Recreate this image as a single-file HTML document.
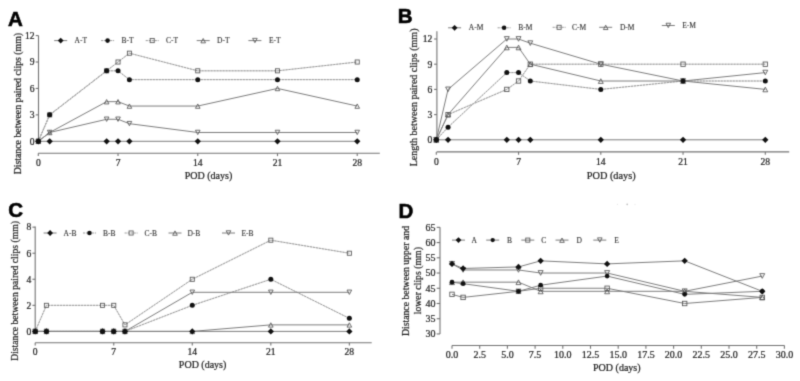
<!DOCTYPE html>
<html><head><meta charset="utf-8"><style>
html,body{margin:0;padding:0;background:#fff;}
svg{display:block;will-change:transform;}
</style></head><body>
<svg width="800" height="381" viewBox="0 0 800 381">
<defs><filter id="soft" x="0" y="0" width="800" height="381" filterUnits="userSpaceOnUse" color-interpolation-filters="sRGB"><feConvolveMatrix order="3" kernelMatrix="0.0225 0.1050 0.0225 0.1050 0.4900 0.1050 0.0225 0.1050 0.0225" divisor="1" edgeMode="duplicate"/></filter></defs>
<g filter="url(#soft)">
<rect width="800" height="381" fill="#fff"/>
<text x="8.10" y="25.90" font-family='"Liberation Sans", sans-serif' font-size="20.5" text-anchor="start" font-weight="bold" fill="#000" stroke="#000" stroke-width="0.6">A</text>
<path d="M38.50 35.60V141.30" stroke="#737373" stroke-width="1.1" fill="none"/>
<path d="M35.70 141.30H38.50" stroke="#737373" stroke-width="1.1"/>
<text x="34.50" y="144.60" font-family='"Liberation Serif", serif' font-size="9.6" text-anchor="end" font-weight="normal" fill="#222" stroke="#222" stroke-width="0.22">0</text>
<path d="M35.70 114.87H38.50" stroke="#737373" stroke-width="1.1"/>
<text x="34.50" y="118.17" font-family='"Liberation Serif", serif' font-size="9.6" text-anchor="end" font-weight="normal" fill="#222" stroke="#222" stroke-width="0.22">3</text>
<path d="M35.70 88.44H38.50" stroke="#737373" stroke-width="1.1"/>
<text x="34.50" y="91.74" font-family='"Liberation Serif", serif' font-size="9.6" text-anchor="end" font-weight="normal" fill="#222" stroke="#222" stroke-width="0.22">6</text>
<path d="M35.70 62.01H38.50" stroke="#737373" stroke-width="1.1"/>
<text x="34.50" y="65.31" font-family='"Liberation Serif", serif' font-size="9.6" text-anchor="end" font-weight="normal" fill="#222" stroke="#222" stroke-width="0.22">9</text>
<path d="M35.70 35.58H38.50" stroke="#737373" stroke-width="1.1"/>
<text x="34.50" y="38.88" font-family='"Liberation Serif", serif' font-size="9.6" text-anchor="end" font-weight="normal" fill="#222" stroke="#222" stroke-width="0.22">12</text>
<path d="M38.20 153.30H379.80" stroke="#737373" stroke-width="1.1" fill="none"/>
<path d="M38.30 153.30V156.10" stroke="#737373" stroke-width="1.1"/>
<text x="38.30" y="165.60" font-family='"Liberation Serif", serif' font-size="9.6" text-anchor="middle" font-weight="normal" fill="#222" stroke="#222" stroke-width="0.22">0</text>
<path d="M118.03 153.30V156.10" stroke="#737373" stroke-width="1.1"/>
<text x="118.03" y="165.60" font-family='"Liberation Serif", serif' font-size="9.6" text-anchor="middle" font-weight="normal" fill="#222" stroke="#222" stroke-width="0.22">7</text>
<path d="M197.76 153.30V156.10" stroke="#737373" stroke-width="1.1"/>
<text x="197.76" y="165.60" font-family='"Liberation Serif", serif' font-size="9.6" text-anchor="middle" font-weight="normal" fill="#222" stroke="#222" stroke-width="0.22">14</text>
<path d="M277.49 153.30V156.10" stroke="#737373" stroke-width="1.1"/>
<text x="277.49" y="165.60" font-family='"Liberation Serif", serif' font-size="9.6" text-anchor="middle" font-weight="normal" fill="#222" stroke="#222" stroke-width="0.22">21</text>
<path d="M357.22 153.30V156.10" stroke="#737373" stroke-width="1.1"/>
<text x="357.22" y="165.60" font-family='"Liberation Serif", serif' font-size="9.6" text-anchor="middle" font-weight="normal" fill="#222" stroke="#222" stroke-width="0.22">28</text>
<text x="208.50" y="179.00" font-family='"Liberation Serif", serif' font-size="10" text-anchor="middle" font-weight="normal" fill="#222" stroke="#222" stroke-width="0.22">POD (days)</text>
<text transform="translate(21.00 103.60) rotate(-90)" x="0" y="0" font-family='"Liberation Serif", serif' font-size="9.8" text-anchor="middle" fill="#222" stroke="#222" stroke-width="0.22">Distance between paired clips (mm)</text>
<path d="M38.30 141.30L49.69 141.30L106.64 141.30L118.03 141.30L129.42 141.30L197.76 141.30L277.49 141.30L357.22 141.30" fill="none" stroke="#7d7d7d" stroke-width="1.0"/>
<path d="M38.30 141.30L49.69 114.87L106.64 70.82L118.03 70.82L129.42 79.63L197.76 79.63L277.49 79.63L357.22 79.63" fill="none" stroke="#d2d2d2" stroke-width="1.0"/><path d="M38.30 141.30L49.69 114.87L106.64 70.82L118.03 70.82L129.42 79.63L197.76 79.63L277.49 79.63L357.22 79.63" fill="none" stroke="#999999" stroke-width="1.0" stroke-dasharray="2 1"/>
<path d="M38.30 141.30L49.69 114.87L106.64 70.82L118.03 62.01L129.42 53.20L197.76 70.82L277.49 70.82L357.22 62.01" fill="none" stroke="#d2d2d2" stroke-width="1.0"/><path d="M38.30 141.30L49.69 114.87L106.64 70.82L118.03 62.01L129.42 53.20L197.76 70.82L277.49 70.82L357.22 62.01" fill="none" stroke="#999999" stroke-width="1.0" stroke-dasharray="2 1"/>
<path d="M38.30 141.30L49.69 132.49L106.64 101.66L118.03 101.66L129.42 106.06L197.76 106.06L277.49 88.44L357.22 106.06" fill="none" stroke="#7d7d7d" stroke-width="1.0"/>
<path d="M38.30 141.30L49.69 132.49L106.64 119.28L118.03 119.28L129.42 123.68L197.76 132.49L277.49 132.49L357.22 132.49" fill="none" stroke="#7d7d7d" stroke-width="1.0"/>
<rect x="36.25" y="139.25" width="4.10" height="4.10" fill="none" stroke="#555" stroke-width="0.85"/>
<rect x="47.64" y="112.82" width="4.10" height="4.10" fill="none" stroke="#555" stroke-width="0.85"/>
<rect x="104.59" y="68.77" width="4.10" height="4.10" fill="none" stroke="#555" stroke-width="0.85"/>
<rect x="115.98" y="59.96" width="4.10" height="4.10" fill="none" stroke="#555" stroke-width="0.85"/>
<rect x="127.37" y="51.15" width="4.10" height="4.10" fill="none" stroke="#555" stroke-width="0.85"/>
<rect x="195.71" y="68.77" width="4.10" height="4.10" fill="none" stroke="#555" stroke-width="0.85"/>
<rect x="275.44" y="68.77" width="4.10" height="4.10" fill="none" stroke="#555" stroke-width="0.85"/>
<rect x="355.17" y="59.96" width="4.10" height="4.10" fill="none" stroke="#555" stroke-width="0.85"/>
<path d="M38.30 139.20L40.60 143.55L36.00 143.55Z" fill="none" stroke="#555" stroke-width="0.85"/>
<path d="M49.69 130.39L51.99 134.74L47.39 134.74Z" fill="none" stroke="#555" stroke-width="0.85"/>
<path d="M106.64 99.56L108.94 103.91L104.34 103.91Z" fill="none" stroke="#555" stroke-width="0.85"/>
<path d="M118.03 99.56L120.33 103.91L115.73 103.91Z" fill="none" stroke="#555" stroke-width="0.85"/>
<path d="M129.42 103.96L131.72 108.31L127.12 108.31Z" fill="none" stroke="#555" stroke-width="0.85"/>
<path d="M197.76 103.96L200.06 108.31L195.46 108.31Z" fill="none" stroke="#555" stroke-width="0.85"/>
<path d="M277.49 86.34L279.79 90.69L275.19 90.69Z" fill="none" stroke="#555" stroke-width="0.85"/>
<path d="M357.22 103.96L359.52 108.31L354.92 108.31Z" fill="none" stroke="#555" stroke-width="0.85"/>
<path d="M38.30 143.40L40.60 139.05L36.00 139.05Z" fill="none" stroke="#555" stroke-width="0.85"/>
<path d="M49.69 134.59L51.99 130.24L47.39 130.24Z" fill="none" stroke="#555" stroke-width="0.85"/>
<path d="M106.64 121.38L108.94 117.03L104.34 117.03Z" fill="none" stroke="#555" stroke-width="0.85"/>
<path d="M118.03 121.38L120.33 117.03L115.73 117.03Z" fill="none" stroke="#555" stroke-width="0.85"/>
<path d="M129.42 125.78L131.72 121.43L127.12 121.43Z" fill="none" stroke="#555" stroke-width="0.85"/>
<path d="M197.76 134.59L200.06 130.24L195.46 130.24Z" fill="none" stroke="#555" stroke-width="0.85"/>
<path d="M277.49 134.59L279.79 130.24L275.19 130.24Z" fill="none" stroke="#555" stroke-width="0.85"/>
<path d="M357.22 134.59L359.52 130.24L354.92 130.24Z" fill="none" stroke="#555" stroke-width="0.85"/>
<path d="M38.30 138.15L41.45 141.30L38.30 144.45L35.15 141.30Z" fill="#111" stroke="none"/>
<path d="M49.69 138.15L52.84 141.30L49.69 144.45L46.54 141.30Z" fill="#111" stroke="none"/>
<path d="M106.64 138.15L109.79 141.30L106.64 144.45L103.49 141.30Z" fill="#111" stroke="none"/>
<path d="M118.03 138.15L121.18 141.30L118.03 144.45L114.88 141.30Z" fill="#111" stroke="none"/>
<path d="M129.42 138.15L132.57 141.30L129.42 144.45L126.27 141.30Z" fill="#111" stroke="none"/>
<path d="M197.76 138.15L200.91 141.30L197.76 144.45L194.61 141.30Z" fill="#111" stroke="none"/>
<path d="M277.49 138.15L280.64 141.30L277.49 144.45L274.34 141.30Z" fill="#111" stroke="none"/>
<path d="M357.22 138.15L360.37 141.30L357.22 144.45L354.07 141.30Z" fill="#111" stroke="none"/>
<circle cx="38.30" cy="141.30" r="2.50" fill="#111"/>
<circle cx="49.69" cy="114.87" r="2.50" fill="#111"/>
<circle cx="106.64" cy="70.82" r="2.50" fill="#111"/>
<circle cx="118.03" cy="70.82" r="2.50" fill="#111"/>
<circle cx="129.42" cy="79.63" r="2.50" fill="#111"/>
<circle cx="197.76" cy="79.63" r="2.50" fill="#111"/>
<circle cx="277.49" cy="79.63" r="2.50" fill="#111"/>
<circle cx="357.22" cy="79.63" r="2.50" fill="#111"/>
<path d="M54.20 40.60H67.20" stroke="#7d7d7d" stroke-width="1.0"/>
<path d="M60.70 37.70L63.60 40.60L60.70 43.50L57.80 40.60Z" fill="#111" stroke="none"/>
<text x="74.50" y="43.10" font-family='"Liberation Serif", serif' font-size="7.5" text-anchor="start" font-weight="normal" fill="#333" stroke="#333" stroke-width="0.12">A-T</text>
<path d="M101.10 40.60H114.10" stroke="#999999" stroke-width="1.0" stroke-dasharray="2.2 0.8"/>
<circle cx="107.60" cy="40.60" r="2.30" fill="#111"/>
<text x="121.40" y="43.10" font-family='"Liberation Serif", serif' font-size="7.5" text-anchor="start" font-weight="normal" fill="#333" stroke="#333" stroke-width="0.12">B-T</text>
<path d="M145.70 40.60H158.70" stroke="#999999" stroke-width="1.0" stroke-dasharray="2.2 0.8"/>
<rect x="150.15" y="38.55" width="4.10" height="4.10" fill="none" stroke="#555" stroke-width="0.85"/>
<text x="166.00" y="43.10" font-family='"Liberation Serif", serif' font-size="7.5" text-anchor="start" font-weight="normal" fill="#333" stroke="#333" stroke-width="0.12">C-T</text>
<path d="M196.70 40.60H209.70" stroke="#7d7d7d" stroke-width="1.0"/>
<path d="M203.20 38.50L205.50 42.85L200.90 42.85Z" fill="none" stroke="#555" stroke-width="0.85"/>
<text x="217.00" y="43.10" font-family='"Liberation Serif", serif' font-size="7.5" text-anchor="start" font-weight="normal" fill="#333" stroke="#333" stroke-width="0.12">D-T</text>
<path d="M248.40 40.60H261.40" stroke="#7d7d7d" stroke-width="1.0"/>
<path d="M254.90 42.70L257.20 38.35L252.60 38.35Z" fill="none" stroke="#555" stroke-width="0.85"/>
<text x="269.00" y="43.10" font-family='"Liberation Serif", serif' font-size="7.5" text-anchor="start" font-weight="normal" fill="#333" stroke="#333" stroke-width="0.12">E-T</text>
<text x="397.80" y="23.40" font-family='"Liberation Sans", sans-serif' font-size="20.5" text-anchor="start" font-weight="bold" fill="#000" stroke="#000" stroke-width="0.6">B</text>
<path d="M436.90 31.20V140.20" stroke="#737373" stroke-width="1.1" fill="none"/>
<path d="M434.10 139.80H436.90" stroke="#737373" stroke-width="1.1"/>
<text x="432.40" y="143.10" font-family='"Liberation Serif", serif' font-size="9.6" text-anchor="end" font-weight="normal" fill="#222" stroke="#222" stroke-width="0.22">0</text>
<path d="M434.10 114.60H436.90" stroke="#737373" stroke-width="1.1"/>
<text x="432.40" y="117.90" font-family='"Liberation Serif", serif' font-size="9.6" text-anchor="end" font-weight="normal" fill="#222" stroke="#222" stroke-width="0.22">3</text>
<path d="M434.10 89.40H436.90" stroke="#737373" stroke-width="1.1"/>
<text x="432.40" y="92.70" font-family='"Liberation Serif", serif' font-size="9.6" text-anchor="end" font-weight="normal" fill="#222" stroke="#222" stroke-width="0.22">6</text>
<path d="M434.10 64.20H436.90" stroke="#737373" stroke-width="1.1"/>
<text x="432.40" y="67.50" font-family='"Liberation Serif", serif' font-size="9.6" text-anchor="end" font-weight="normal" fill="#222" stroke="#222" stroke-width="0.22">9</text>
<path d="M434.10 39.00H436.90" stroke="#737373" stroke-width="1.1"/>
<text x="432.40" y="42.30" font-family='"Liberation Serif", serif' font-size="9.6" text-anchor="end" font-weight="normal" fill="#222" stroke="#222" stroke-width="0.22">12</text>
<path d="M436.60 151.90H789.20" stroke="#737373" stroke-width="1.1" fill="none"/>
<path d="M436.30 151.90V154.70" stroke="#737373" stroke-width="1.1"/>
<text x="436.30" y="164.90" font-family='"Liberation Serif", serif' font-size="9.6" text-anchor="middle" font-weight="normal" fill="#222" stroke="#222" stroke-width="0.22">0</text>
<path d="M518.55 151.90V154.70" stroke="#737373" stroke-width="1.1"/>
<text x="518.55" y="164.90" font-family='"Liberation Serif", serif' font-size="9.6" text-anchor="middle" font-weight="normal" fill="#222" stroke="#222" stroke-width="0.22">7</text>
<path d="M600.80 151.90V154.70" stroke="#737373" stroke-width="1.1"/>
<text x="600.80" y="164.90" font-family='"Liberation Serif", serif' font-size="9.6" text-anchor="middle" font-weight="normal" fill="#222" stroke="#222" stroke-width="0.22">14</text>
<path d="M683.05 151.90V154.70" stroke="#737373" stroke-width="1.1"/>
<text x="683.05" y="164.90" font-family='"Liberation Serif", serif' font-size="9.6" text-anchor="middle" font-weight="normal" fill="#222" stroke="#222" stroke-width="0.22">21</text>
<path d="M765.30 151.90V154.70" stroke="#737373" stroke-width="1.1"/>
<text x="765.30" y="164.90" font-family='"Liberation Serif", serif' font-size="9.6" text-anchor="middle" font-weight="normal" fill="#222" stroke="#222" stroke-width="0.22">28</text>
<text x="611.20" y="178.80" font-family='"Liberation Serif", serif' font-size="10.3" text-anchor="middle" font-weight="normal" fill="#222" stroke="#222" stroke-width="0.22">POD (days)</text>
<text transform="translate(416.50 97.40) rotate(-90)" x="0" y="0" font-family='"Liberation Serif", serif' font-size="10" text-anchor="middle" fill="#222" stroke="#222" stroke-width="0.22">Length between paired clips (mm)</text>
<path d="M436.30 139.80L448.05 139.80L506.80 139.80L518.55 139.80L530.30 139.80L600.80 139.80L683.05 139.80L765.30 139.80" fill="none" stroke="#7d7d7d" stroke-width="1.0"/>
<path d="M436.30 139.80L448.05 127.20L506.80 72.60L518.55 72.60L530.30 81.00L600.80 89.40L683.05 81.00L765.30 81.00" fill="none" stroke="#d2d2d2" stroke-width="1.0"/><path d="M436.30 139.80L448.05 127.20L506.80 72.60L518.55 72.60L530.30 81.00L600.80 89.40L683.05 81.00L765.30 81.00" fill="none" stroke="#999999" stroke-width="1.0" stroke-dasharray="2 1"/>
<path d="M436.30 139.80L448.05 114.60L506.80 89.40L518.55 81.00L530.30 64.20L600.80 64.20L683.05 64.20L765.30 64.20" fill="none" stroke="#d2d2d2" stroke-width="1.0"/><path d="M436.30 139.80L448.05 114.60L506.80 89.40L518.55 81.00L530.30 64.20L600.80 64.20L683.05 64.20L765.30 64.20" fill="none" stroke="#999999" stroke-width="1.0" stroke-dasharray="2 1"/>
<path d="M436.30 139.80L448.05 114.60L506.80 47.40L518.55 47.40L530.30 64.20L600.80 81.00L683.05 81.00L765.30 89.40" fill="none" stroke="#7d7d7d" stroke-width="1.0"/>
<path d="M436.30 139.80L448.05 89.40L506.80 39.00L518.55 39.00L530.30 43.20L600.80 64.20L683.05 81.00L765.30 72.60" fill="none" stroke="#7d7d7d" stroke-width="1.0"/>
<rect x="434.13" y="137.63" width="4.35" height="4.35" fill="none" stroke="#555" stroke-width="0.85"/>
<rect x="445.88" y="112.43" width="4.35" height="4.35" fill="none" stroke="#555" stroke-width="0.85"/>
<rect x="504.63" y="87.23" width="4.35" height="4.35" fill="none" stroke="#555" stroke-width="0.85"/>
<rect x="516.38" y="78.83" width="4.35" height="4.35" fill="none" stroke="#555" stroke-width="0.85"/>
<rect x="528.13" y="62.03" width="4.35" height="4.35" fill="none" stroke="#555" stroke-width="0.85"/>
<rect x="598.63" y="62.03" width="4.35" height="4.35" fill="none" stroke="#555" stroke-width="0.85"/>
<rect x="680.88" y="62.03" width="4.35" height="4.35" fill="none" stroke="#555" stroke-width="0.85"/>
<rect x="763.13" y="62.03" width="4.35" height="4.35" fill="none" stroke="#555" stroke-width="0.85"/>
<path d="M436.30 137.57L438.74 142.19L433.86 142.19Z" fill="none" stroke="#555" stroke-width="0.85"/>
<path d="M448.05 112.37L450.49 116.99L445.61 116.99Z" fill="none" stroke="#555" stroke-width="0.85"/>
<path d="M506.80 45.17L509.24 49.79L504.36 49.79Z" fill="none" stroke="#555" stroke-width="0.85"/>
<path d="M518.55 45.17L520.99 49.79L516.11 49.79Z" fill="none" stroke="#555" stroke-width="0.85"/>
<path d="M530.30 61.97L532.74 66.59L527.86 66.59Z" fill="none" stroke="#555" stroke-width="0.85"/>
<path d="M600.80 78.77L603.24 83.39L598.36 83.39Z" fill="none" stroke="#555" stroke-width="0.85"/>
<path d="M683.05 78.77L685.49 83.39L680.61 83.39Z" fill="none" stroke="#555" stroke-width="0.85"/>
<path d="M765.30 87.17L767.74 91.79L762.86 91.79Z" fill="none" stroke="#555" stroke-width="0.85"/>
<path d="M436.30 142.03L438.74 137.42L433.86 137.42Z" fill="none" stroke="#555" stroke-width="0.85"/>
<path d="M448.05 91.63L450.49 87.02L445.61 87.02Z" fill="none" stroke="#555" stroke-width="0.85"/>
<path d="M506.80 41.23L509.24 36.62L504.36 36.62Z" fill="none" stroke="#555" stroke-width="0.85"/>
<path d="M518.55 41.23L520.99 36.62L516.11 36.62Z" fill="none" stroke="#555" stroke-width="0.85"/>
<path d="M530.30 45.43L532.74 40.82L527.86 40.82Z" fill="none" stroke="#555" stroke-width="0.85"/>
<path d="M600.80 66.43L603.24 61.82L598.36 61.82Z" fill="none" stroke="#555" stroke-width="0.85"/>
<path d="M683.05 83.23L685.49 78.61L680.61 78.61Z" fill="none" stroke="#555" stroke-width="0.85"/>
<path d="M765.30 74.83L767.74 70.22L762.86 70.22Z" fill="none" stroke="#555" stroke-width="0.85"/>
<path d="M436.30 136.65L439.45 139.80L436.30 142.95L433.15 139.80Z" fill="#111" stroke="none"/>
<path d="M448.05 136.65L451.20 139.80L448.05 142.95L444.90 139.80Z" fill="#111" stroke="none"/>
<path d="M506.80 136.65L509.95 139.80L506.80 142.95L503.65 139.80Z" fill="#111" stroke="none"/>
<path d="M518.55 136.65L521.70 139.80L518.55 142.95L515.40 139.80Z" fill="#111" stroke="none"/>
<path d="M530.30 136.65L533.45 139.80L530.30 142.95L527.15 139.80Z" fill="#111" stroke="none"/>
<path d="M600.80 136.65L603.95 139.80L600.80 142.95L597.65 139.80Z" fill="#111" stroke="none"/>
<path d="M683.05 136.65L686.20 139.80L683.05 142.95L679.90 139.80Z" fill="#111" stroke="none"/>
<path d="M765.30 136.65L768.45 139.80L765.30 142.95L762.15 139.80Z" fill="#111" stroke="none"/>
<circle cx="436.30" cy="139.80" r="2.50" fill="#111"/>
<circle cx="448.05" cy="127.20" r="2.50" fill="#111"/>
<circle cx="506.80" cy="72.60" r="2.50" fill="#111"/>
<circle cx="518.55" cy="72.60" r="2.50" fill="#111"/>
<circle cx="530.30" cy="81.00" r="2.50" fill="#111"/>
<circle cx="600.80" cy="89.40" r="2.50" fill="#111"/>
<circle cx="683.05" cy="81.00" r="2.50" fill="#111"/>
<circle cx="765.30" cy="81.00" r="2.50" fill="#111"/>
<path d="M448.10 27.80H461.10" stroke="#7d7d7d" stroke-width="1.0"/>
<path d="M454.60 24.90L457.50 27.80L454.60 30.70L451.70 27.80Z" fill="#111" stroke="none"/>
<text x="468.80" y="30.30" font-family='"Liberation Serif", serif' font-size="7.5" text-anchor="start" font-weight="normal" fill="#333" stroke="#333" stroke-width="0.12">A-M</text>
<path d="M497.60 27.80H510.60" stroke="#999999" stroke-width="1.0" stroke-dasharray="2.2 0.8"/>
<circle cx="504.10" cy="27.80" r="2.30" fill="#111"/>
<text x="518.30" y="30.30" font-family='"Liberation Serif", serif' font-size="7.5" text-anchor="start" font-weight="normal" fill="#333" stroke="#333" stroke-width="0.12">B-M</text>
<path d="M552.60 27.30H565.60" stroke="#999999" stroke-width="1.0" stroke-dasharray="2.2 0.8"/>
<rect x="557.05" y="25.25" width="4.10" height="4.10" fill="none" stroke="#555" stroke-width="0.85"/>
<text x="572.00" y="29.80" font-family='"Liberation Serif", serif' font-size="7.5" text-anchor="start" font-weight="normal" fill="#333" stroke="#333" stroke-width="0.12">C-M</text>
<path d="M599.20 27.30H612.20" stroke="#7d7d7d" stroke-width="1.0"/>
<path d="M605.70 25.20L608.00 29.55L603.40 29.55Z" fill="none" stroke="#555" stroke-width="0.85"/>
<text x="619.90" y="29.80" font-family='"Liberation Serif", serif' font-size="7.5" text-anchor="start" font-weight="normal" fill="#333" stroke="#333" stroke-width="0.12">D-M</text>
<path d="M661.80 25.50H674.80" stroke="#7d7d7d" stroke-width="1.0"/>
<path d="M668.30 27.60L670.60 23.25L666.00 23.25Z" fill="none" stroke="#555" stroke-width="0.85"/>
<text x="682.20" y="28.00" font-family='"Liberation Serif", serif' font-size="7.5" text-anchor="start" font-weight="normal" fill="#333" stroke="#333" stroke-width="0.12">E-M</text>
<text x="8.30" y="217.40" font-family='"Liberation Sans", sans-serif' font-size="20.5" text-anchor="start" font-weight="bold" fill="#000" stroke="#000" stroke-width="0.6">C</text>
<path d="M35.20 226.60V331.40" stroke="#737373" stroke-width="1.1" fill="none"/>
<path d="M32.40 331.40H35.20" stroke="#737373" stroke-width="1.1"/>
<text x="31.20" y="334.70" font-family='"Liberation Serif", serif' font-size="9.6" text-anchor="end" font-weight="normal" fill="#222" stroke="#222" stroke-width="0.22">0</text>
<path d="M32.40 305.34H35.20" stroke="#737373" stroke-width="1.1"/>
<text x="31.20" y="308.64" font-family='"Liberation Serif", serif' font-size="9.6" text-anchor="end" font-weight="normal" fill="#222" stroke="#222" stroke-width="0.22">2</text>
<path d="M32.40 279.28H35.20" stroke="#737373" stroke-width="1.1"/>
<text x="31.20" y="282.58" font-family='"Liberation Serif", serif' font-size="9.6" text-anchor="end" font-weight="normal" fill="#222" stroke="#222" stroke-width="0.22">4</text>
<path d="M32.40 253.22H35.20" stroke="#737373" stroke-width="1.1"/>
<text x="31.20" y="256.52" font-family='"Liberation Serif", serif' font-size="9.6" text-anchor="end" font-weight="normal" fill="#222" stroke="#222" stroke-width="0.22">6</text>
<path d="M32.40 227.16H35.20" stroke="#737373" stroke-width="1.1"/>
<text x="31.20" y="230.46" font-family='"Liberation Serif", serif' font-size="9.6" text-anchor="end" font-weight="normal" fill="#222" stroke="#222" stroke-width="0.22">8</text>
<path d="M35.20 342.80H371.70" stroke="#737373" stroke-width="1.1" fill="none"/>
<path d="M35.20 342.80V345.60" stroke="#737373" stroke-width="1.1"/>
<text x="35.20" y="355.10" font-family='"Liberation Serif", serif' font-size="9.6" text-anchor="middle" font-weight="normal" fill="#222" stroke="#222" stroke-width="0.22">0</text>
<path d="M113.74 342.80V345.60" stroke="#737373" stroke-width="1.1"/>
<text x="113.74" y="355.10" font-family='"Liberation Serif", serif' font-size="9.6" text-anchor="middle" font-weight="normal" fill="#222" stroke="#222" stroke-width="0.22">7</text>
<path d="M192.28 342.80V345.60" stroke="#737373" stroke-width="1.1"/>
<text x="192.28" y="355.10" font-family='"Liberation Serif", serif' font-size="9.6" text-anchor="middle" font-weight="normal" fill="#222" stroke="#222" stroke-width="0.22">14</text>
<path d="M270.82 342.80V345.60" stroke="#737373" stroke-width="1.1"/>
<text x="270.82" y="355.10" font-family='"Liberation Serif", serif' font-size="9.6" text-anchor="middle" font-weight="normal" fill="#222" stroke="#222" stroke-width="0.22">21</text>
<path d="M349.36 342.80V345.60" stroke="#737373" stroke-width="1.1"/>
<text x="349.36" y="355.10" font-family='"Liberation Serif", serif' font-size="9.6" text-anchor="middle" font-weight="normal" fill="#222" stroke="#222" stroke-width="0.22">28</text>
<text x="202.60" y="367.50" font-family='"Liberation Serif", serif' font-size="10" text-anchor="middle" font-weight="normal" fill="#222" stroke="#222" stroke-width="0.22">POD (days)</text>
<text transform="translate(17.70 290.90) rotate(-90)" x="0" y="0" font-family='"Liberation Serif", serif' font-size="9.7" text-anchor="middle" fill="#222" stroke="#222" stroke-width="0.22">Distance between paired clips (mm)</text>
<path d="M35.20 331.40L46.42 331.40L102.52 331.40L113.74 331.40L124.96 331.40L192.28 331.40L270.82 331.40L349.36 331.40" fill="none" stroke="#7d7d7d" stroke-width="1.0"/>
<path d="M35.20 331.40L46.42 331.40L102.52 331.40L113.74 331.40L124.96 331.40L192.28 305.34L270.82 279.28L349.36 318.37" fill="none" stroke="#d2d2d2" stroke-width="1.0"/><path d="M35.20 331.40L46.42 331.40L102.52 331.40L113.74 331.40L124.96 331.40L192.28 305.34L270.82 279.28L349.36 318.37" fill="none" stroke="#999999" stroke-width="1.0" stroke-dasharray="2 1"/>
<path d="M35.20 331.40L46.42 305.34L102.52 305.34L113.74 305.34L124.96 324.88L192.28 279.28L270.82 240.19L349.36 253.22" fill="none" stroke="#d2d2d2" stroke-width="1.0"/><path d="M35.20 331.40L46.42 305.34L102.52 305.34L113.74 305.34L124.96 324.88L192.28 279.28L270.82 240.19L349.36 253.22" fill="none" stroke="#999999" stroke-width="1.0" stroke-dasharray="2 1"/>
<path d="M35.20 331.40L46.42 331.40L102.52 331.40L113.74 331.40L124.96 331.40L192.28 331.40L270.82 324.88L349.36 324.88" fill="none" stroke="#7d7d7d" stroke-width="1.0"/>
<path d="M35.20 331.40L46.42 331.40L102.52 331.40L113.74 331.40L124.96 331.40L192.28 292.31L270.82 292.31L349.36 292.31" fill="none" stroke="#7d7d7d" stroke-width="1.0"/>
<rect x="33.15" y="329.35" width="4.10" height="4.10" fill="none" stroke="#555" stroke-width="0.85"/>
<rect x="44.37" y="303.29" width="4.10" height="4.10" fill="none" stroke="#555" stroke-width="0.85"/>
<rect x="100.47" y="303.29" width="4.10" height="4.10" fill="none" stroke="#555" stroke-width="0.85"/>
<rect x="111.69" y="303.29" width="4.10" height="4.10" fill="none" stroke="#555" stroke-width="0.85"/>
<rect x="122.91" y="322.83" width="4.10" height="4.10" fill="none" stroke="#555" stroke-width="0.85"/>
<rect x="190.23" y="277.23" width="4.10" height="4.10" fill="none" stroke="#555" stroke-width="0.85"/>
<rect x="268.77" y="238.14" width="4.10" height="4.10" fill="none" stroke="#555" stroke-width="0.85"/>
<rect x="347.31" y="251.17" width="4.10" height="4.10" fill="none" stroke="#555" stroke-width="0.85"/>
<path d="M35.20 329.30L37.50 333.65L32.90 333.65Z" fill="none" stroke="#555" stroke-width="0.85"/>
<path d="M46.42 329.30L48.72 333.65L44.12 333.65Z" fill="none" stroke="#555" stroke-width="0.85"/>
<path d="M102.52 329.30L104.82 333.65L100.22 333.65Z" fill="none" stroke="#555" stroke-width="0.85"/>
<path d="M113.74 329.30L116.04 333.65L111.44 333.65Z" fill="none" stroke="#555" stroke-width="0.85"/>
<path d="M124.96 329.30L127.26 333.65L122.66 333.65Z" fill="none" stroke="#555" stroke-width="0.85"/>
<path d="M192.28 329.30L194.58 333.65L189.98 333.65Z" fill="none" stroke="#555" stroke-width="0.85"/>
<path d="M270.82 322.78L273.12 327.13L268.52 327.13Z" fill="none" stroke="#555" stroke-width="0.85"/>
<path d="M349.36 322.78L351.66 327.13L347.06 327.13Z" fill="none" stroke="#555" stroke-width="0.85"/>
<path d="M35.20 333.50L37.50 329.15L32.90 329.15Z" fill="none" stroke="#555" stroke-width="0.85"/>
<path d="M46.42 333.50L48.72 329.15L44.12 329.15Z" fill="none" stroke="#555" stroke-width="0.85"/>
<path d="M102.52 333.50L104.82 329.15L100.22 329.15Z" fill="none" stroke="#555" stroke-width="0.85"/>
<path d="M113.74 333.50L116.04 329.15L111.44 329.15Z" fill="none" stroke="#555" stroke-width="0.85"/>
<path d="M124.96 333.50L127.26 329.15L122.66 329.15Z" fill="none" stroke="#555" stroke-width="0.85"/>
<path d="M192.28 294.41L194.58 290.06L189.98 290.06Z" fill="none" stroke="#555" stroke-width="0.85"/>
<path d="M270.82 294.41L273.12 290.06L268.52 290.06Z" fill="none" stroke="#555" stroke-width="0.85"/>
<path d="M349.36 294.41L351.66 290.06L347.06 290.06Z" fill="none" stroke="#555" stroke-width="0.85"/>
<path d="M35.20 328.25L38.35 331.40L35.20 334.55L32.05 331.40Z" fill="#111" stroke="none"/>
<path d="M46.42 328.25L49.57 331.40L46.42 334.55L43.27 331.40Z" fill="#111" stroke="none"/>
<path d="M102.52 328.25L105.67 331.40L102.52 334.55L99.37 331.40Z" fill="#111" stroke="none"/>
<path d="M113.74 328.25L116.89 331.40L113.74 334.55L110.59 331.40Z" fill="#111" stroke="none"/>
<path d="M124.96 328.25L128.11 331.40L124.96 334.55L121.81 331.40Z" fill="#111" stroke="none"/>
<path d="M192.28 328.25L195.43 331.40L192.28 334.55L189.13 331.40Z" fill="#111" stroke="none"/>
<path d="M270.82 328.25L273.97 331.40L270.82 334.55L267.67 331.40Z" fill="#111" stroke="none"/>
<path d="M349.36 328.25L352.51 331.40L349.36 334.55L346.21 331.40Z" fill="#111" stroke="none"/>
<circle cx="35.20" cy="331.40" r="2.50" fill="#111"/>
<circle cx="46.42" cy="331.40" r="2.50" fill="#111"/>
<circle cx="102.52" cy="331.40" r="2.50" fill="#111"/>
<circle cx="113.74" cy="331.40" r="2.50" fill="#111"/>
<circle cx="124.96" cy="331.40" r="2.50" fill="#111"/>
<circle cx="192.28" cy="305.34" r="2.50" fill="#111"/>
<circle cx="270.82" cy="279.28" r="2.50" fill="#111"/>
<circle cx="349.36" cy="318.37" r="2.50" fill="#111"/>
<path d="M43.60 233.00H56.60" stroke="#7d7d7d" stroke-width="1.0"/>
<path d="M50.10 230.10L53.00 233.00L50.10 235.90L47.20 233.00Z" fill="#111" stroke="none"/>
<text x="63.60" y="235.50" font-family='"Liberation Serif", serif' font-size="7.5" text-anchor="start" font-weight="normal" fill="#333" stroke="#333" stroke-width="0.12">A-B</text>
<path d="M83.00 233.00H96.00" stroke="#999999" stroke-width="1.0" stroke-dasharray="2.2 0.8"/>
<circle cx="89.50" cy="233.00" r="2.30" fill="#111"/>
<text x="103.00" y="235.50" font-family='"Liberation Serif", serif' font-size="7.5" text-anchor="start" font-weight="normal" fill="#333" stroke="#333" stroke-width="0.12">B-B</text>
<path d="M124.60 233.00H137.60" stroke="#999999" stroke-width="1.0" stroke-dasharray="2.2 0.8"/>
<rect x="129.05" y="230.95" width="4.10" height="4.10" fill="none" stroke="#555" stroke-width="0.85"/>
<text x="144.60" y="235.50" font-family='"Liberation Serif", serif' font-size="7.5" text-anchor="start" font-weight="normal" fill="#333" stroke="#333" stroke-width="0.12">C-B</text>
<path d="M168.50 233.00H181.50" stroke="#7d7d7d" stroke-width="1.0"/>
<path d="M175.00 230.90L177.30 235.25L172.70 235.25Z" fill="none" stroke="#555" stroke-width="0.85"/>
<text x="187.40" y="235.50" font-family='"Liberation Serif", serif' font-size="7.5" text-anchor="start" font-weight="normal" fill="#333" stroke="#333" stroke-width="0.12">D-B</text>
<path d="M222.00 233.00H235.00" stroke="#7d7d7d" stroke-width="1.0"/>
<path d="M228.50 235.10L230.80 230.75L226.20 230.75Z" fill="none" stroke="#555" stroke-width="0.85"/>
<text x="241.50" y="235.50" font-family='"Liberation Serif", serif' font-size="7.5" text-anchor="start" font-weight="normal" fill="#333" stroke="#333" stroke-width="0.12">E-B</text>
<text x="398.60" y="217.50" font-family='"Liberation Sans", sans-serif' font-size="20.5" text-anchor="start" font-weight="bold" fill="#000" stroke="#000" stroke-width="0.6">D</text>
<path d="M440.00 227.30V333.95" stroke="#737373" stroke-width="1.1" fill="none"/>
<path d="M436.70 333.95H440.00" stroke="#737373" stroke-width="1.1"/>
<text x="435.50" y="337.25" font-family='"Liberation Serif", serif' font-size="10" text-anchor="end" font-weight="normal" fill="#222" stroke="#222" stroke-width="0.22">30</text>
<path d="M436.70 318.72H440.00" stroke="#737373" stroke-width="1.1"/>
<text x="435.50" y="322.02" font-family='"Liberation Serif", serif' font-size="10" text-anchor="end" font-weight="normal" fill="#222" stroke="#222" stroke-width="0.22">35</text>
<path d="M436.70 303.49H440.00" stroke="#737373" stroke-width="1.1"/>
<text x="435.50" y="306.79" font-family='"Liberation Serif", serif' font-size="10" text-anchor="end" font-weight="normal" fill="#222" stroke="#222" stroke-width="0.22">40</text>
<path d="M436.70 288.26H440.00" stroke="#737373" stroke-width="1.1"/>
<text x="435.50" y="291.56" font-family='"Liberation Serif", serif' font-size="10" text-anchor="end" font-weight="normal" fill="#222" stroke="#222" stroke-width="0.22">45</text>
<path d="M436.70 273.03H440.00" stroke="#737373" stroke-width="1.1"/>
<text x="435.50" y="276.33" font-family='"Liberation Serif", serif' font-size="10" text-anchor="end" font-weight="normal" fill="#222" stroke="#222" stroke-width="0.22">50</text>
<path d="M436.70 257.80H440.00" stroke="#737373" stroke-width="1.1"/>
<text x="435.50" y="261.10" font-family='"Liberation Serif", serif' font-size="10" text-anchor="end" font-weight="normal" fill="#222" stroke="#222" stroke-width="0.22">55</text>
<path d="M436.70 242.57H440.00" stroke="#737373" stroke-width="1.1"/>
<text x="435.50" y="245.87" font-family='"Liberation Serif", serif' font-size="10" text-anchor="end" font-weight="normal" fill="#222" stroke="#222" stroke-width="0.22">60</text>
<path d="M436.70 227.34H440.00" stroke="#737373" stroke-width="1.1"/>
<text x="435.50" y="230.64" font-family='"Liberation Serif", serif' font-size="10" text-anchor="end" font-weight="normal" fill="#222" stroke="#222" stroke-width="0.22">65</text>
<path d="M452.00 345.50H784.50" stroke="#737373" stroke-width="1.1" fill="none"/>
<path d="M452.00 345.50V348.80" stroke="#737373" stroke-width="1.1"/>
<text x="452.00" y="358.30" font-family='"Liberation Serif", serif' font-size="10" text-anchor="middle" font-weight="normal" fill="#222" stroke="#222" stroke-width="0.22">0.0</text>
<path d="M479.70 345.50V348.80" stroke="#737373" stroke-width="1.1"/>
<text x="479.70" y="358.30" font-family='"Liberation Serif", serif' font-size="10" text-anchor="middle" font-weight="normal" fill="#222" stroke="#222" stroke-width="0.22">2.5</text>
<path d="M507.40 345.50V348.80" stroke="#737373" stroke-width="1.1"/>
<text x="507.40" y="358.30" font-family='"Liberation Serif", serif' font-size="10" text-anchor="middle" font-weight="normal" fill="#222" stroke="#222" stroke-width="0.22">5.0</text>
<path d="M535.10 345.50V348.80" stroke="#737373" stroke-width="1.1"/>
<text x="535.10" y="358.30" font-family='"Liberation Serif", serif' font-size="10" text-anchor="middle" font-weight="normal" fill="#222" stroke="#222" stroke-width="0.22">7.5</text>
<path d="M562.80 345.50V348.80" stroke="#737373" stroke-width="1.1"/>
<text x="562.80" y="358.30" font-family='"Liberation Serif", serif' font-size="10" text-anchor="middle" font-weight="normal" fill="#222" stroke="#222" stroke-width="0.22">10.0</text>
<path d="M590.50 345.50V348.80" stroke="#737373" stroke-width="1.1"/>
<text x="590.50" y="358.30" font-family='"Liberation Serif", serif' font-size="10" text-anchor="middle" font-weight="normal" fill="#222" stroke="#222" stroke-width="0.22">12.5</text>
<path d="M618.20 345.50V348.80" stroke="#737373" stroke-width="1.1"/>
<text x="618.20" y="358.30" font-family='"Liberation Serif", serif' font-size="10" text-anchor="middle" font-weight="normal" fill="#222" stroke="#222" stroke-width="0.22">15.0</text>
<path d="M645.90 345.50V348.80" stroke="#737373" stroke-width="1.1"/>
<text x="645.90" y="358.30" font-family='"Liberation Serif", serif' font-size="10" text-anchor="middle" font-weight="normal" fill="#222" stroke="#222" stroke-width="0.22">17.5</text>
<path d="M673.60 345.50V348.80" stroke="#737373" stroke-width="1.1"/>
<text x="673.60" y="358.30" font-family='"Liberation Serif", serif' font-size="10" text-anchor="middle" font-weight="normal" fill="#222" stroke="#222" stroke-width="0.22">20.0</text>
<path d="M701.30 345.50V348.80" stroke="#737373" stroke-width="1.1"/>
<text x="701.30" y="358.30" font-family='"Liberation Serif", serif' font-size="10" text-anchor="middle" font-weight="normal" fill="#222" stroke="#222" stroke-width="0.22">22.5</text>
<path d="M729.00 345.50V348.80" stroke="#737373" stroke-width="1.1"/>
<text x="729.00" y="358.30" font-family='"Liberation Serif", serif' font-size="10" text-anchor="middle" font-weight="normal" fill="#222" stroke="#222" stroke-width="0.22">25.0</text>
<path d="M756.70 345.50V348.80" stroke="#737373" stroke-width="1.1"/>
<text x="756.70" y="358.30" font-family='"Liberation Serif", serif' font-size="10" text-anchor="middle" font-weight="normal" fill="#222" stroke="#222" stroke-width="0.22">27.5</text>
<path d="M784.40 345.50V348.80" stroke="#737373" stroke-width="1.1"/>
<text x="784.40" y="358.30" font-family='"Liberation Serif", serif' font-size="10" text-anchor="middle" font-weight="normal" fill="#222" stroke="#222" stroke-width="0.22">30.0</text>
<text x="616.80" y="370.60" font-family='"Liberation Serif", serif' font-size="10" text-anchor="middle" font-weight="normal" fill="#222" stroke="#222" stroke-width="0.22">POD (days)</text>
<text transform="translate(409.30 281.00) rotate(-90)" x="0" y="0" font-family='"Liberation Serif", serif' font-size="9.75" text-anchor="middle" fill="#222" stroke="#222" stroke-width="0.22">Distance between upper and</text>
<text transform="translate(421.00 280.70) rotate(-90)" x="0" y="0" font-family='"Liberation Serif", serif' font-size="9.75" text-anchor="middle" fill="#222" stroke="#222" stroke-width="0.22">lower clips (mm)</text>
<path d="M452.00 263.89L463.08 268.46L518.48 266.94L540.64 260.85L607.12 263.89L684.68 260.85L762.24 291.31" fill="none" stroke="#7d7d7d" stroke-width="1.0"/>
<path d="M452.00 282.17L463.08 283.69L518.48 291.31L540.64 285.21L607.12 276.08L684.68 294.35L762.24 291.31" fill="none" stroke="#7d7d7d" stroke-width="1.0"/>
<path d="M452.00 294.35L463.08 297.40L518.48 291.31L540.64 288.26L607.12 288.26L684.68 303.49L762.24 297.40" fill="none" stroke="#7d7d7d" stroke-width="1.0"/>
<path d="M452.00 282.17L463.08 282.17L518.48 282.17L540.64 291.31L607.12 291.31L684.68 291.31L762.24 297.40" fill="none" stroke="#7d7d7d" stroke-width="1.0"/>
<path d="M452.00 263.89L463.08 269.98L518.48 269.98L540.64 273.03L607.12 273.03L684.68 291.31L762.24 276.08" fill="none" stroke="#7d7d7d" stroke-width="1.0"/>
<rect x="449.79" y="292.14" width="4.43" height="4.43" fill="none" stroke="#555" stroke-width="0.85"/>
<rect x="460.87" y="295.18" width="4.43" height="4.43" fill="none" stroke="#555" stroke-width="0.85"/>
<rect x="516.27" y="289.09" width="4.43" height="4.43" fill="none" stroke="#555" stroke-width="0.85"/>
<rect x="538.43" y="286.05" width="4.43" height="4.43" fill="none" stroke="#555" stroke-width="0.85"/>
<rect x="604.91" y="286.05" width="4.43" height="4.43" fill="none" stroke="#555" stroke-width="0.85"/>
<rect x="682.47" y="301.28" width="4.43" height="4.43" fill="none" stroke="#555" stroke-width="0.85"/>
<rect x="760.03" y="295.18" width="4.43" height="4.43" fill="none" stroke="#555" stroke-width="0.85"/>
<path d="M452.00 279.90L454.48 284.60L449.52 284.60Z" fill="none" stroke="#555" stroke-width="0.85"/>
<path d="M463.08 279.90L465.56 284.60L460.60 284.60Z" fill="none" stroke="#555" stroke-width="0.85"/>
<path d="M518.48 279.90L520.96 284.60L516.00 284.60Z" fill="none" stroke="#555" stroke-width="0.85"/>
<path d="M540.64 289.04L543.12 293.74L538.16 293.74Z" fill="none" stroke="#555" stroke-width="0.85"/>
<path d="M607.12 289.04L609.60 293.74L604.64 293.74Z" fill="none" stroke="#555" stroke-width="0.85"/>
<path d="M684.68 289.04L687.16 293.74L682.20 293.74Z" fill="none" stroke="#555" stroke-width="0.85"/>
<path d="M762.24 295.13L764.72 299.83L759.76 299.83Z" fill="none" stroke="#555" stroke-width="0.85"/>
<path d="M452.00 266.16L454.48 261.46L449.52 261.46Z" fill="none" stroke="#555" stroke-width="0.85"/>
<path d="M463.08 272.25L465.56 267.55L460.60 267.55Z" fill="none" stroke="#555" stroke-width="0.85"/>
<path d="M518.48 272.25L520.96 267.55L516.00 267.55Z" fill="none" stroke="#555" stroke-width="0.85"/>
<path d="M540.64 275.30L543.12 270.60L538.16 270.60Z" fill="none" stroke="#555" stroke-width="0.85"/>
<path d="M607.12 275.30L609.60 270.60L604.64 270.60Z" fill="none" stroke="#555" stroke-width="0.85"/>
<path d="M684.68 293.57L687.16 288.88L682.20 288.88Z" fill="none" stroke="#555" stroke-width="0.85"/>
<path d="M762.24 278.34L764.72 273.65L759.76 273.65Z" fill="none" stroke="#555" stroke-width="0.85"/>
<path d="M452.00 260.74L455.15 263.89L452.00 267.04L448.85 263.89Z" fill="#111" stroke="none"/>
<path d="M463.08 265.31L466.23 268.46L463.08 271.61L459.93 268.46Z" fill="#111" stroke="none"/>
<path d="M518.48 263.79L521.63 266.94L518.48 270.09L515.33 266.94Z" fill="#111" stroke="none"/>
<path d="M540.64 257.70L543.79 260.85L540.64 264.00L537.49 260.85Z" fill="#111" stroke="none"/>
<path d="M607.12 260.74L610.27 263.89L607.12 267.04L603.97 263.89Z" fill="#111" stroke="none"/>
<path d="M684.68 257.70L687.83 260.85L684.68 264.00L681.53 260.85Z" fill="#111" stroke="none"/>
<path d="M762.24 288.16L765.39 291.31L762.24 294.46L759.09 291.31Z" fill="#111" stroke="none"/>
<circle cx="452.00" cy="282.17" r="2.35" fill="#111"/>
<circle cx="463.08" cy="283.69" r="2.35" fill="#111"/>
<circle cx="518.48" cy="291.31" r="2.35" fill="#111"/>
<circle cx="540.64" cy="285.21" r="2.35" fill="#111"/>
<circle cx="607.12" cy="276.08" r="2.35" fill="#111"/>
<circle cx="684.68" cy="294.35" r="2.35" fill="#111"/>
<circle cx="762.24" cy="291.31" r="2.35" fill="#111"/>
<path d="M452.00 240.10H465.00" stroke="#7d7d7d" stroke-width="1.0"/>
<path d="M458.50 237.20L461.40 240.10L458.50 243.00L455.60 240.10Z" fill="#111" stroke="none"/>
<text x="471.60" y="242.60" font-family='"Liberation Serif", serif' font-size="7.5" text-anchor="start" font-weight="normal" fill="#333" stroke="#333" stroke-width="0.12">A</text>
<path d="M486.20 240.10H499.20" stroke="#7d7d7d" stroke-width="1.0"/>
<circle cx="492.70" cy="240.10" r="2.16" fill="#111"/>
<text x="506.90" y="242.60" font-family='"Liberation Serif", serif' font-size="7.5" text-anchor="start" font-weight="normal" fill="#333" stroke="#333" stroke-width="0.12">B</text>
<path d="M521.30 240.10H534.30" stroke="#7d7d7d" stroke-width="1.0"/>
<rect x="525.75" y="238.05" width="4.10" height="4.10" fill="none" stroke="#555" stroke-width="0.85"/>
<text x="541.30" y="242.60" font-family='"Liberation Serif", serif' font-size="7.5" text-anchor="start" font-weight="normal" fill="#333" stroke="#333" stroke-width="0.12">C</text>
<path d="M555.50 240.10H568.50" stroke="#7d7d7d" stroke-width="1.0"/>
<path d="M562.00 238.00L564.30 242.35L559.70 242.35Z" fill="none" stroke="#555" stroke-width="0.85"/>
<text x="576.60" y="242.60" font-family='"Liberation Serif", serif' font-size="7.5" text-anchor="start" font-weight="normal" fill="#333" stroke="#333" stroke-width="0.12">D</text>
<path d="M593.30 240.10H606.30" stroke="#7d7d7d" stroke-width="1.0"/>
<path d="M599.80 242.20L602.10 237.85L597.50 237.85Z" fill="none" stroke="#555" stroke-width="0.85"/>
<text x="614.20" y="242.60" font-family='"Liberation Serif", serif' font-size="7.5" text-anchor="start" font-weight="normal" fill="#333" stroke="#333" stroke-width="0.12">E</text>
<circle cx="627.2" cy="204.4" r="0.8" fill="#bbb"/><circle cx="617.5" cy="204.3" r="0.6" fill="#e4e4e4"/><circle cx="635" cy="204.3" r="0.6" fill="#e4e4e4"/>
</g>
</svg>
</body></html>
